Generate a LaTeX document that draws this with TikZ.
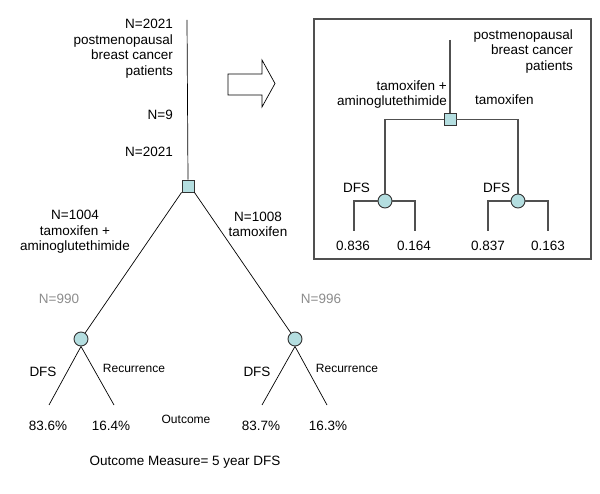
\documentclass[tikz,border=0pt]{standalone}
\usepackage{fontspec}
\setmainfont{Liberation Sans}
\definecolor{nodefill}{RGB}{180,222,224}
\definecolor{insetgray}{RGB}{80,80,80}
\definecolor{ngray}{RGB}{140,140,140}
\begin{document}
\begin{tikzpicture}[x=1pt,y=-1pt,
  txt/.style={inner sep=0pt,font=\fontsize{13.5}{15.6}\selectfont},
  small/.style={inner sep=0pt,font=\fontsize{12}{14}\selectfont},
  sqnode/.style={draw=black!80,fill=nodefill,minimum size=12pt,inner sep=0pt,line width=0.9pt},
  crnode/.style={circle,draw=black!80,fill=nodefill,minimum size=14pt,inner sep=0pt,line width=0.9pt},
  branch/.style={draw=black,line width=0.7pt},
  ibranch/.style={draw=insetgray,line width=1.3pt}]
\useasboundingbox (0,0) rectangle (600,494);

% ---------- main tree ----------
\coordinate (top) at (187,20);
\node[sqnode] (sq) at (188,186) {};
\node[crnode] (lc) at (81,339) {};
\node[crnode] (rc) at (295,339) {};
\coordinate (l1) at (49,405);
\coordinate (l2) at (114,405);
\coordinate (r1) at (262,405);
\coordinate (r2) at (327,405);
\draw[branch] (top) -- (sq.north);
\draw[branch] (sq.south west) -- (lc);
\draw[branch] (sq.south east) -- (rc);
\draw[branch] (lc.south) -- (l1);
\draw[branch] (lc.south) -- (l2);
\draw[branch] (rc.south) -- (r1);
\draw[branch] (rc.south) -- (r2);

\node[txt,anchor=east,align=right] (pop) at (173,48.5) {N=2021\\postmenopausal\\breast cancer\\patients};
\node[txt,anchor=east] (n9) at (173,115) {N=9};
\node[txt,anchor=east] (n2021) at (173,152) {N=2021};
\node[txt,align=center] (ta) at (75,232) {N=1004\\tamoxifen +\\aminoglutethimide};
\node[txt,align=center] (t) at (258,224.5) {N=1008\\tamoxifen};
\node[txt,text=ngray] (n990) at (59,299) {N=990};
\node[txt,text=ngray] (n996) at (321,299) {N=996};
\node[txt] (dfsl) at (43,372) {DFS};
\node[small] (recl) at (134,368) {Recurrence};
\node[txt] (dfsr) at (257,372) {DFS};
\node[small] (recr) at (347,368) {Recurrence};
\node[txt] (p1) at (48,426) {83.6\%};
\node[txt] (p2) at (111,426) {16.4\%};
\node[txt] (p3) at (261,426) {83.7\%};
\node[txt] (p4) at (328,426) {16.3\%};
\node[small] (out) at (186,419) {Outcome};
\node[txt] (om) at (185,462) {Outcome Measure= 5 year DFS};

% ---------- block arrow ----------
\draw[line width=0.7pt] (228,74) -- (262,74) -- (262,60) -- (275,83.5) -- (262,107) -- (262,95) -- (228,95) -- cycle;

% ---------- inset ----------
\draw[draw=insetgray,line width=1.3pt] (314,19) rectangle (591,259);
\coordinate (itop) at (450,40);
\node[sqnode] (isq) at (450,119.5) {};
\coordinate (ihl) at (385,119.5);
\coordinate (ihr) at (518,119.5);
\node[crnode] (ilc) at (385,201) {};
\node[crnode] (irc) at (518,201) {};
\draw[ibranch] (itop) -- (isq.north);
\draw[ibranch] (isq.west) -- (ihl) -- (ilc.north);
\draw[ibranch] (isq.east) -- (ihr) -- (irc.north);
\coordinate (ia1) at (354,201);
\coordinate (ia2) at (415,201);
\coordinate (ib1) at (488,201);
\coordinate (ib2) at (548,201);
\coordinate (ia1e) at (354,231);
\coordinate (ia2e) at (415,231);
\coordinate (ib1e) at (488,231);
\coordinate (ib2e) at (548,231);
\draw[ibranch] (ilc.west) -- (ia1) -- (ia1e);
\draw[ibranch] (ilc.east) -- (ia2) -- (ia2e);
\draw[ibranch] (irc.west) -- (ib1) -- (ib1e);
\draw[ibranch] (irc.east) -- (ib2) -- (ib2e);

\node[txt,anchor=east,align=right] (ipop) at (573,51.5) {postmenopausal\\breast cancer\\patients};
\node[txt,anchor=east,align=right,font=\fontsize{13.5}{15}\selectfont] (ita) at (447,94.5) {tamoxifen +\\aminoglutethimide};
\node[txt,anchor=west] (it) at (475,100) {tamoxifen};
\node[txt] (idfsl) at (356.5,188) {DFS};
\node[txt] (idfsr) at (496.5,188) {DFS};
\node[txt] (v1) at (353,246) {0.836};
\node[txt] (v2) at (414,246) {0.164};
\node[txt] (v3) at (488,246) {0.837};
\node[txt] (v4) at (548,246) {0.163};
\end{tikzpicture}
\end{document}
